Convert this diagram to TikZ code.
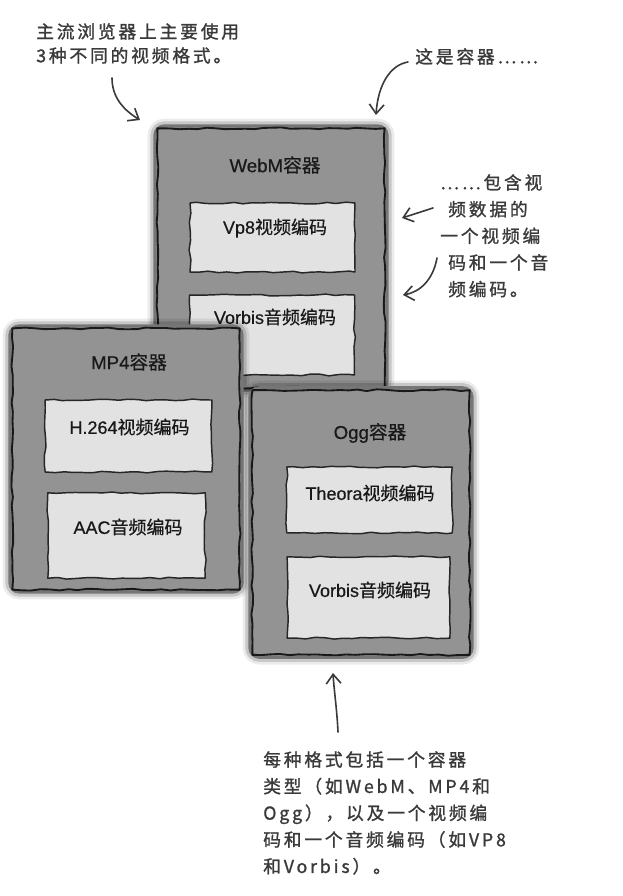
\documentclass[tikz,border=0pt]{standalone}
\usepackage{fontspec}
\setmainfont{Liberation Sans}[FakeBold=0.6]
\newfontfamily\lab[FakeBold=0.6]{Liberation Sans}
\newfontfamily\cjk[FakeBold=0.6]{Noto Sans CJK SC}
\newfontfamily\hand[LetterSpace=16, FakeBold=1.2]{Noto Sans CJK SC}
\usetikzlibrary{arrows.meta,decorations.pathmorphing}
\definecolor{boxgray}{HTML}{939393}
\definecolor{innergray}{HTML}{E2E2E2}
\definecolor{inkgray}{HTML}{3A3A3A}
\tikzset{
  rough/.style={decorate, decoration={random steps, segment length=7pt, amplitude=0.7pt}},
  cont/.style={fill=boxgray, draw=boxgray!80!black, line width=2.5pt, rounded corners=7pt, inner sep=0pt,
    preaction={draw=black, line width=11pt, opacity=0.08, rounded corners=7pt},
    preaction={draw=black, line width=7pt, opacity=0.15, rounded corners=7pt}},
  contline/.style={rough, draw=black!90, line width=1.4pt, line join=round},
  inbox/.style={rough, draw=black!85, line width=1.1pt, line join=round, fill=innergray, inner sep=0pt},
  title/.style={font=\lab\fontsize{14}{16}\selectfont, text=black!90, inner sep=0pt},
  lbl/.style={font=\lab\fontsize{13.5}{16}\selectfont, text=black!90, inner sep=0pt},
  note/.style={font=\hand\fontsize{13.3}{18}\selectfont, text=inkgray, align=left, inner sep=0pt, anchor=north west},
  arr/.style={draw=inkgray, line width=1.2pt, line cap=round, -{Straight Barb[length=7pt,width=11pt,line width=1.2pt]}}
}
\begin{document}
\begin{tikzpicture}[x=0.75pt,y=-0.75pt]
\pgfmathsetseed{7}
\useasboundingbox[fill=white] (0,0) rectangle (622,896);

% WebM container
\node[cont, minimum width=174pt, minimum height=198pt] (webm) at (271,258) {};
\draw[contline] ([shift={(4,4)}]webm.north west) rectangle ([shift={(-4,-4)}]webm.south east);
\node[title] (webmt) at (275,165) {WebM\cjk 容器};
\node[inbox, minimum width=123.75pt, minimum height=51.75pt] (vp8) at (272.5,237.5) {};
\node[lbl] (vp8t) at (275,228) {Vp8\cjk 视频编码};
\node[inbox, minimum width=123.75pt, minimum height=60pt] (wvor) at (272,335) {};
\node[lbl] (wvort) at (275,317) {Vorbis\cjk 音频编码};

% MP4 container
\node[cont, minimum width=174pt, minimum height=199.5pt] (mp4) at (126,459) {};
\draw[contline] ([shift={(4,4)}]mp4.north west) rectangle ([shift={(-4,-4)}]mp4.south east);
\node[title] (mp4t) at (129,362) {MP4\cjk 容器};
\node[inbox, minimum width=125pt, minimum height=54pt] (h264) at (128.5,436) {};
\node[lbl] (h264t) at (129.5,427) {H.264\cjk 视频编码};
\node[inbox, minimum width=118pt, minimum height=64pt] (aac) at (126.5,535.5) {};
\node[lbl] (aact) at (128,527) {AAC\cjk 音频编码};

% Ogg container
\node[cont, minimum width=166.5pt, minimum height=202pt] (ogg) at (361,522.5) {};
\draw[contline] ([shift={(4,4)}]ogg.north west) rectangle ([shift={(-4,-4)}]ogg.south east);
\node[title] (oggt) at (370,433) {Ogg\cjk 容器};
\node[inbox, minimum width=124pt, minimum height=49.5pt] (theora) at (369.5,500) {};
\node[lbl] (theorat) at (370,493) {Theora\cjk 视频编码};
\node[inbox, minimum width=122pt, minimum height=61pt] (ovor) at (368.5,597.5) {};
\node[lbl] (ovort) at (370,590) {Vorbis\cjk 音频编码};

% annotations
\node[note] (n1) at (36,23) {主流浏览器上主要使用\\3种不同的视频格式。};
\node[note] (n2) at (415,48) {这是容器……};
\node[note, font=\hand\fontsize{13.3}{20}\selectfont] (n3) at (440,174) {……包含视\\\hspace*{6pt}频数据的\\一个视频编\\\hspace*{6pt}码和一个音\\\hspace*{6pt}频编码。};
\node[note, font=\hand\fontsize{13.3}{20}\selectfont] (n4) at (263,751) {每种格式包括一个容器\\类型（如WebM、MP4和\\Ogg），以及一个视频编\\码和一个音频编码（如VP8\\和Vorbis）。};

\coordinate (a1s) at (112,78);
\coordinate (a1e) at (140,120);
\coordinate (a2s) at (408,62);
\coordinate (a2e) at (376,115);
\coordinate (a3s) at (433,208);
\coordinate (a3e) at (402,218);
\coordinate (a4s) at (437,258);
\coordinate (a4e) at (403,295);
\coordinate (a5s) at (338,732);
\coordinate (a5e) at (333,673);

\draw[arr] (a1s) .. controls (112,96) and (122,109) .. (a1e);
\draw[arr] (a2s) .. controls (390,65) and (378,85) .. (a2e);
\draw[arr] (a3s) -- (a3e);
\draw[arr] (a4s) .. controls (433,280) and (420,292) .. (a4e);
\draw[arr] (a5s) .. controls (337,710) and (334,690) .. (a5e);
\end{tikzpicture}
\end{document}
